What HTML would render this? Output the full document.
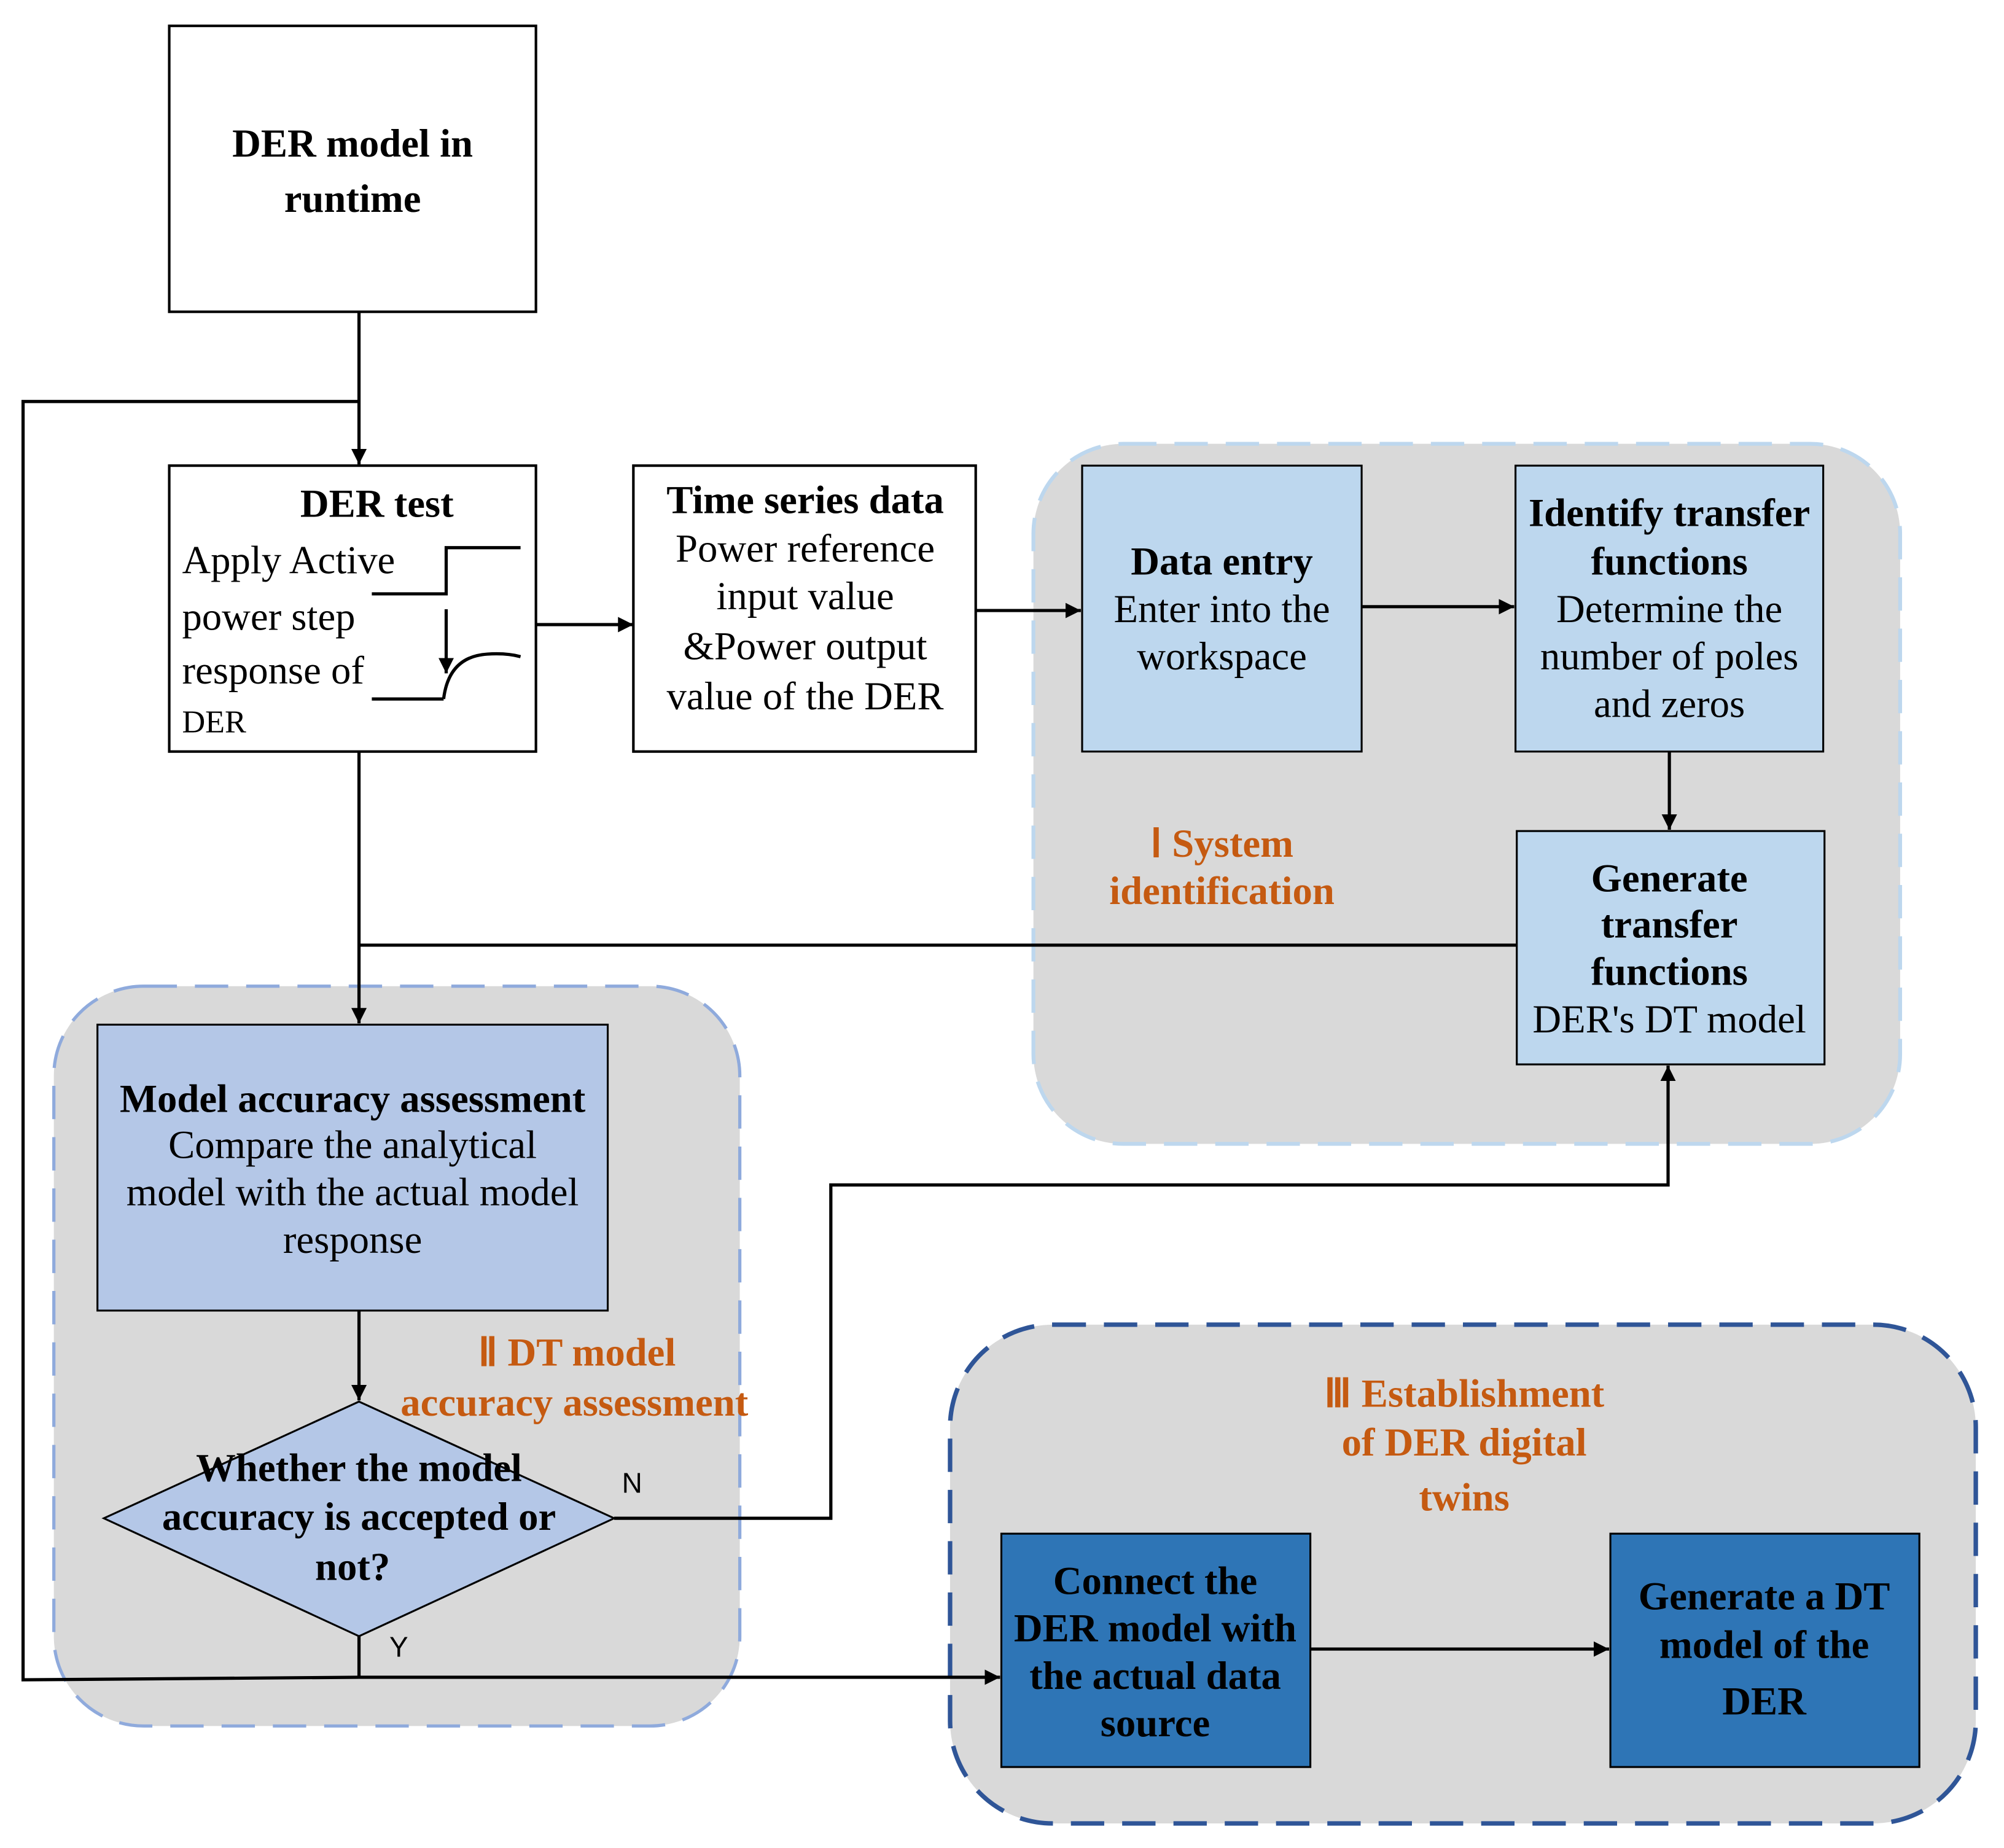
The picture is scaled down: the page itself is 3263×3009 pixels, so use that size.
<!DOCTYPE html>
<html><head><meta charset="utf-8"><style>html,body{margin:0;padding:0;background:#fff}svg{display:block}</style></head><body>
<svg xmlns="http://www.w3.org/2000/svg" width="3263" height="3009" viewBox="0 0 1563 1441">
<defs><marker id="a" viewBox="0 0 10 10" refX="10" refY="5" markerWidth="12" markerHeight="12" markerUnits="userSpaceOnUse" orient="auto"><path d="M0,0L10,5L0,10z" fill="#000"/></marker></defs>
<g font-family="'Liberation Serif',serif" font-size="31" text-anchor="middle" fill="#000">
<rect x="806" y="346" width="676" height="546" rx="70" fill="#d9d9d9" stroke="#bdd7ee" stroke-width="3" stroke-dasharray="26,14"/>
<rect x="42" y="769" width="535" height="577" rx="70" fill="#d9d9d9" stroke="#8faadc" stroke-width="2.5" stroke-dasharray="26,14"/>
<rect x="741" y="1033" width="800" height="389" rx="80" fill="#d9d9d9" stroke="#2f5597" stroke-width="3.5" stroke-dasharray="26,14"/>
<g stroke="#000" stroke-width="2.5" fill="none">
<line x1="280" y1="243" x2="280" y2="362" marker-end="url(#a)"/>
<polyline points="280,313 18,313 18,1310 280,1308"/>
<line x1="418" y1="487" x2="494" y2="487" marker-end="url(#a)"/>
<line x1="761" y1="476" x2="843" y2="476" marker-end="url(#a)"/>
<line x1="1062" y1="473" x2="1181" y2="473" marker-end="url(#a)"/>
<line x1="1302" y1="586" x2="1302" y2="647" marker-end="url(#a)"/>
<line x1="280" y1="586" x2="280" y2="798" marker-end="url(#a)"/>
<line x1="280" y1="737" x2="1183" y2="737"/>
<line x1="280" y1="1022" x2="280" y2="1092" marker-end="url(#a)"/>
<polyline points="479,1184 648,1184 648,924 1301,924 1301,831" marker-end="url(#a)"/>
<polyline points="280,1276 280,1308"/>
<line x1="280" y1="1308" x2="780" y2="1308" marker-end="url(#a)"/>
<line x1="1022" y1="1286" x2="1255" y2="1286" marker-end="url(#a)"/>
</g>
<g stroke="#000" stroke-width="2">
<rect x="132" y="20" width="286" height="223" fill="#fff"/>
<rect x="132" y="363" width="286" height="223" fill="#fff"/>
<rect x="494" y="363" width="267" height="223" fill="#fff"/>
<rect x="844" y="363" width="218" height="223" fill="#bdd7ee" stroke-width="1.5"/>
<rect x="1182" y="363" width="240" height="223" fill="#bdd7ee" stroke-width="1.5"/>
<rect x="1183" y="648" width="240" height="182" fill="#bdd7ee" stroke-width="1.5"/>
<rect x="76" y="799" width="398" height="223" fill="#b4c7e7" stroke-width="1.5"/>
<polygon points="280,1093 479,1184 280,1276 81,1184" fill="#b4c7e7" stroke-width="1.5"/>
<rect x="781" y="1196" width="241" height="182" fill="#2e75b6" stroke-width="1.5"/>
<rect x="1256" y="1196" width="241" height="182" fill="#2e75b6" stroke-width="1.5"/>
</g>
<g stroke="#000" stroke-width="2.5" fill="none">
<polyline points="290,463 348,463 348,427 406,427"/>
<polyline points="290,545 346,545"/>
<path d="M346,545 Q350,512 380,510 Q395,509 406,512"/>
<line x1="348" y1="475" x2="348" y2="525" marker-end="url(#a)"/>
</g>
<g font-weight="bold">
<text x="275" y="122">DER model in</text><text x="275" y="165">runtime</text>
<text x="294" y="403">DER test</text>
<text x="628" y="400">Time series data</text>
<text x="953" y="448">Data entry</text>
<text x="1302" y="410">Identify transfer</text><text x="1302" y="448">functions</text>
<text x="1302" y="695">Generate</text><text x="1302" y="731">transfer</text><text x="1302" y="768">functions</text>
<text x="275" y="867">Model accuracy assessment</text>
<text x="280" y="1155">Whether the model</text><text x="280" y="1193">accuracy is accepted or</text><text x="275" y="1232">not?</text>
<text x="901" y="1243">Connect the</text><text x="901" y="1280">DER model with</text><text x="901" y="1317">the actual data</text><text x="901" y="1354">source</text>
<text x="1376" y="1255">Generate a DT</text><text x="1376" y="1293">model of the</text><text x="1376" y="1337">DER</text>
<g fill="#c55a11"><text x="953" y="668">Ⅰ System</text><text x="953" y="705">identification</text>
<text x="450" y="1065">Ⅱ DT model</text><text x="448" y="1104">accuracy assessment</text>
<text x="1142" y="1097">Ⅲ Establishment</text><text x="1142" y="1135">of DER digital</text><text x="1142" y="1178">twins</text></g>
</g>
<g text-anchor="start"><text x="142" y="447">Apply Active</text><text x="142" y="491">power step</text><text x="142" y="533">response of</text><text x="142" y="571" font-size="25">DER</text></g>
<text x="628" y="438">Power reference</text><text x="628" y="475">input value</text><text x="628" y="514">&amp;Power output</text><text x="628" y="553">value of the DER</text>
<text x="953" y="485">Enter into the</text><text x="953" y="522">workspace</text>
<text x="1302" y="485">Determine the</text><text x="1302" y="522">number of poles</text><text x="1302" y="559">and zeros</text>
<text x="1302" y="805">DER's DT model</text>
<text x="275" y="903">Compare the analytical</text><text x="275" y="940">model with the actual model</text><text x="275" y="977">response</text>
<g font-family="'Liberation Sans',sans-serif" font-size="22"><text x="493" y="1164">N</text><text x="311" y="1292">Y</text></g>
</g>
</svg>
</body></html>
